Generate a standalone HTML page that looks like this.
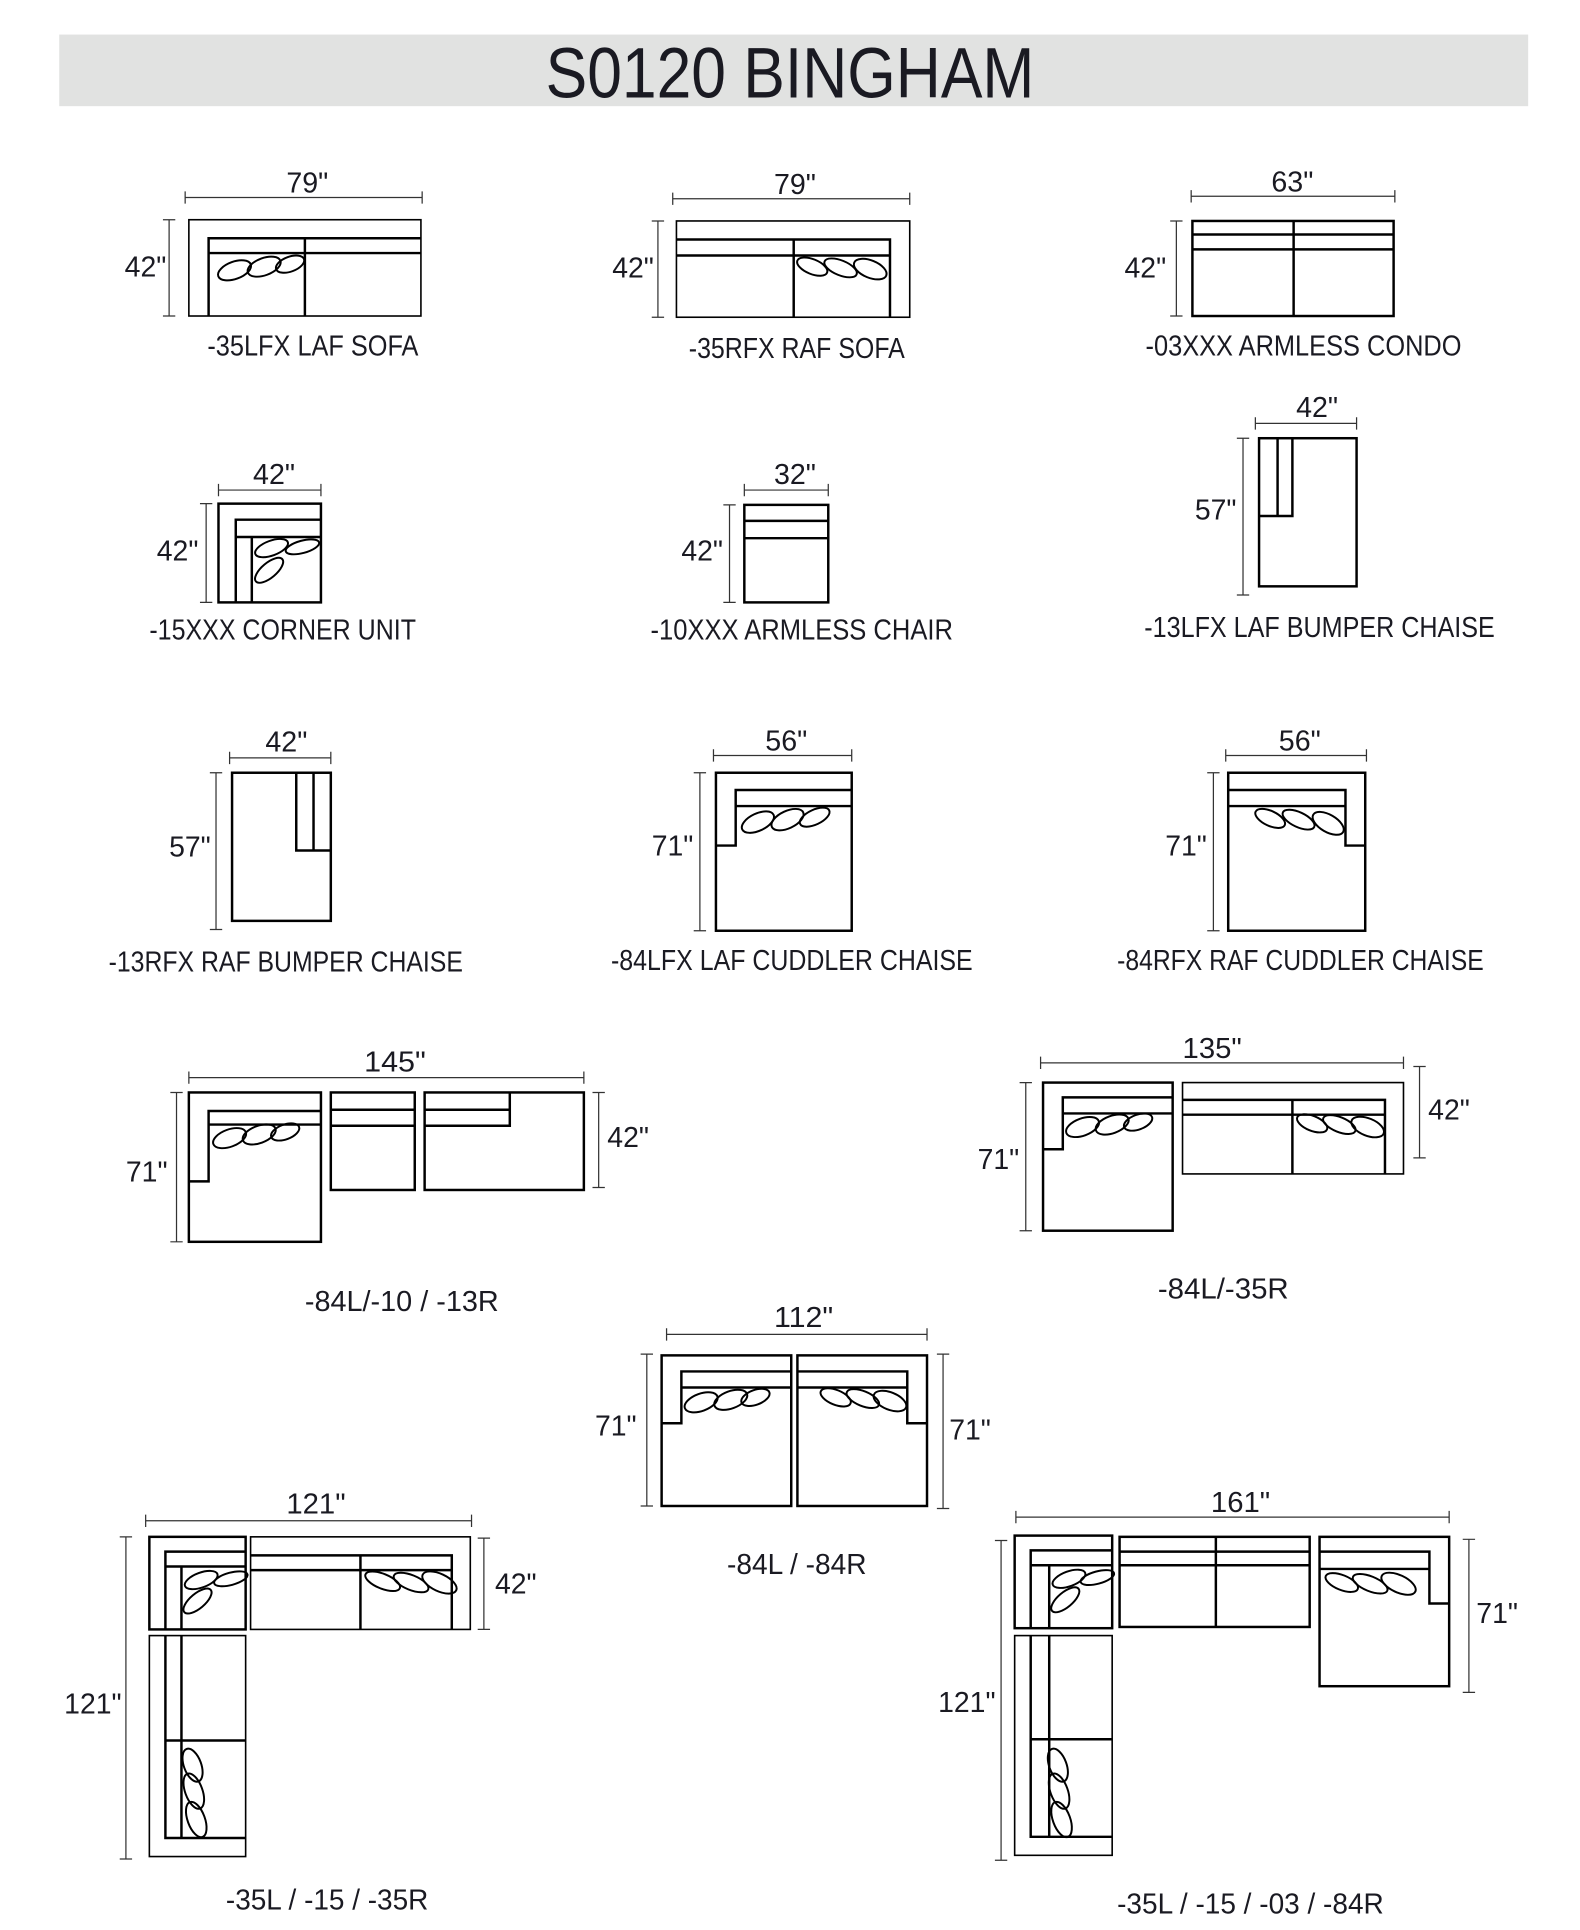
<!DOCTYPE html>
<html><head><meta charset="utf-8"><style>
html,body{margin:0;padding:0;background:#fff;}
svg{display:block;}
text{font-family:"Liberation Sans",sans-serif;fill:#1a1a22;}
.l{font-size:23px;}
.d{font-size:23px;}
.s{fill:none;stroke:#000;stroke-width:2;}
.t{fill:none;stroke:#000;stroke-width:1.3;}
.m{fill:none;stroke:#333;stroke-width:1;}
.p{fill:none;stroke:#000;stroke-width:1.6;}
</style></head><body>
<svg width="1580" height="1930" viewBox="0 0 1280 1563.5" preserveAspectRatio="none" xmlns="http://www.w3.org/2000/svg">
<rect x="48" y="28" width="1190" height="58" fill="#e1e2e1"/>
<text x="442" y="79" style="font-size:58px" textLength="396" lengthAdjust="spacingAndGlyphs">S0120 BINGHAM</text>

<!-- 1 LAF sofa -->
<path class="m" d="M150,160H342M150,155V165M342,155V165M137,178V256M132,178H142M132,256H142"/>
<text class="d" x="232" y="156" textLength="34" lengthAdjust="spacingAndGlyphs">79"</text>
<text class="d" x="101" y="224">42"</text>
<rect class="t" x="153" y="178" width="188" height="78"/>
<path class="s" d="M169,256V193H341M169,205H341M247,193V256"/>
<ellipse class="p" cx="190" cy="219" rx="14" ry="7" transform="rotate(-20 190 219)"/>
<ellipse class="p" cx="214" cy="216" rx="14" ry="7" transform="rotate(-20 214 216)"/>
<ellipse class="p" cx="235" cy="214" rx="12" ry="6" transform="rotate(-20 235 214)"/>
<text class="l" x="168" y="288" textLength="171" lengthAdjust="spacingAndGlyphs">-35LFX LAF SOFA</text>

<!-- 2 RAF sofa -->
<path class="m" d="M545,161H737M545,156V166M737,156V166M533,179V257M528,179H538M528,257H538"/>
<text class="d" x="627" y="157" textLength="34" lengthAdjust="spacingAndGlyphs">79"</text>
<text class="d" x="496" y="225">42"</text>
<rect class="t" x="548" y="179" width="189" height="78"/>
<path class="s" d="M721,257V194H548M548,207H721M643,194V257"/>
<ellipse class="p" cx="658" cy="216" rx="13" ry="6" transform="rotate(22 658 216)"/>
<ellipse class="p" cx="681" cy="217" rx="14" ry="6" transform="rotate(22 681 217)"/>
<ellipse class="p" cx="705" cy="218" rx="14" ry="7" transform="rotate(22 705 218)"/>
<text class="l" x="558" y="290" textLength="175" lengthAdjust="spacingAndGlyphs">-35RFX RAF SOFA</text>

<!-- 3 condo -->
<path class="m" d="M965,159H1130M965,154V164M1130,154V164M953,179V256M948,179H958M948,256H958"/>
<text class="d" x="1030" y="155" textLength="34" lengthAdjust="spacingAndGlyphs">63"</text>
<text class="d" x="911" y="225">42"</text>
<rect class="s" x="966" y="179" width="163" height="77"/>
<path class="s" d="M966,190H1129M966,202H1129M1048,179V256"/>
<text class="l" x="928" y="288" textLength="256" lengthAdjust="spacingAndGlyphs">-03XXX ARMLESS CONDO</text>

<!-- 4 corner -->
<path class="m" d="M177,397H260M177,392V402M260,392V402M167,408V488M162,408H172M162,488H172"/>
<text class="d" x="205" y="392" textLength="34" lengthAdjust="spacingAndGlyphs">42"</text>
<text class="d" x="127" y="454">42"</text>
<rect class="s" x="177" y="408" width="83" height="80"/>
<path class="s" d="M191,488V421H260M191,435H260M204,435V488"/>
<ellipse class="p" cx="220" cy="444" rx="14" ry="6" transform="rotate(-20 220 444)"/>
<ellipse class="p" cx="245" cy="443" rx="14" ry="5" transform="rotate(-15 245 443)"/>
<ellipse class="p" cx="218" cy="462" rx="14" ry="6" transform="rotate(-40 218 462)"/>
<text class="l" x="121" y="518" textLength="216" lengthAdjust="spacingAndGlyphs">-15XXX CORNER UNIT</text>

<!-- 5 armless chair -->
<path class="m" d="M603,397H671M603,392V402M671,392V402M591,409V488M586,409H596M586,488H596"/>
<text class="d" x="627" y="392" textLength="34" lengthAdjust="spacingAndGlyphs">32"</text>
<text class="d" x="552" y="454">42"</text>
<rect class="s" x="603" y="409" width="68" height="79"/>
<path class="s" d="M603,422H671M603,436H671"/>
<text class="l" x="527" y="518" textLength="245" lengthAdjust="spacingAndGlyphs">-10XXX ARMLESS CHAIR</text>

<!-- 6 LAF bumper -->
<path class="m" d="M1017,343H1099M1017,338V348M1099,338V348M1007,355V482M1002,355H1012M1002,482H1012"/>
<text class="d" x="1050" y="338" textLength="34" lengthAdjust="spacingAndGlyphs">42"</text>
<text class="d" x="968" y="421">57"</text>
<rect class="s" x="1020" y="355" width="79" height="120"/>
<path class="s" d="M1020,418H1047V355M1035,355V418"/>
<text class="l" x="927" y="516" textLength="284" lengthAdjust="spacingAndGlyphs">-13LFX LAF BUMPER CHAISE</text>

<!-- 7 RAF bumper -->
<path class="m" d="M186,614H268M186,609V619M268,609V619M175,626V753M170,626H180M170,753H180"/>
<text class="d" x="215" y="609" textLength="34" lengthAdjust="spacingAndGlyphs">42"</text>
<text class="d" x="137" y="694">57"</text>
<rect class="s" x="188" y="626" width="80" height="120"/>
<path class="s" d="M268,689H240V626M254,626V689"/>
<text class="l" x="88" y="787" textLength="287" lengthAdjust="spacingAndGlyphs">-13RFX RAF BUMPER CHAISE</text>

<!-- 8 LAF cuddler -->
<path class="m" d="M578,612H690M578,607V617M690,607V617M567,626V754M562,626H572M562,754H572"/>
<text class="d" x="620" y="608" textLength="34" lengthAdjust="spacingAndGlyphs">56"</text>
<text class="d" x="528" y="693">71"</text>
<rect class="s" x="580" y="626" width="110" height="128"/>
<path class="s" d="M580,685H596V640H690M596,653H690"/>
<ellipse class="p" cx="614" cy="666" rx="14" ry="7" transform="rotate(-25 614 666)"/>
<ellipse class="p" cx="638" cy="664" rx="14" ry="7" transform="rotate(-25 638 664)"/>
<ellipse class="p" cx="660" cy="662" rx="13" ry="6" transform="rotate(-25 660 662)"/>
<text class="l" x="495" y="786" textLength="293" lengthAdjust="spacingAndGlyphs">-84LFX LAF CUDDLER CHAISE</text>

<!-- 9 RAF cuddler -->
<path class="m" d="M993,612H1107M993,607V617M1107,607V617M983,626V754M978,626H988M978,754H988"/>
<text class="d" x="1036" y="608" textLength="34" lengthAdjust="spacingAndGlyphs">56"</text>
<text class="d" x="944" y="693">71"</text>
<rect class="s" x="995" y="626" width="111" height="128"/>
<path class="s" d="M1106,685H1090V640H995M995,653H1090"/>
<ellipse class="p" cx="1029" cy="663" rx="13" ry="6" transform="rotate(25 1029 663)"/>
<ellipse class="p" cx="1052" cy="664" rx="14" ry="6" transform="rotate(25 1052 664)"/>
<ellipse class="p" cx="1076" cy="667" rx="14" ry="7" transform="rotate(30 1076 667)"/>
<text class="l" x="905" y="786" textLength="297" lengthAdjust="spacingAndGlyphs">-84RFX RAF CUDDLER CHAISE</text>

<!-- 10 145 -->
<path class="m" d="M153,873H473M153,868V878M473,868V878M143,885V1006M138,885H148M138,1006H148M485,885V962M480,885H490M480,962H490"/>
<text class="d" x="295" y="868" textLength="50" lengthAdjust="spacingAndGlyphs">145"</text>
<text class="d" x="102" y="957">71"</text>
<text class="d" x="492" y="929">42"</text>
<rect class="s" x="153" y="885" width="107" height="121"/>
<path class="s" d="M153,957H169V900H260M169,911H260"/>
<ellipse class="p" cx="186" cy="922" rx="14" ry="7" transform="rotate(-20 186 922)"/>
<ellipse class="p" cx="210" cy="919" rx="14" ry="7" transform="rotate(-20 210 919)"/>
<ellipse class="p" cx="231" cy="917" rx="12" ry="6" transform="rotate(-20 231 917)"/>
<rect class="s" x="268" y="885" width="68" height="79"/>
<path class="s" d="M268,899H336M268,912H336"/>
<rect class="s" x="344" y="885" width="129" height="79"/>
<path class="s" d="M344,899H413M344,912H413V885"/>
<text class="l" x="247" y="1062" textLength="157" lengthAdjust="spacingAndGlyphs">-84L/-10 / -13R</text>

<!-- 11 135 -->
<path class="m" d="M843,861H1137M843,856V866M1137,856V866M831,877V997M826,877H836M826,997H836M1150,864V938M1145,864H1155M1145,938H1155"/>
<text class="d" x="958" y="857" textLength="48" lengthAdjust="spacingAndGlyphs">135"</text>
<text class="d" x="792" y="947">71"</text>
<text class="d" x="1157" y="907">42"</text>
<rect class="s" x="845" y="877" width="105" height="120"/>
<path class="s" d="M845,931H861V889H950M861,902H950"/>
<ellipse class="p" cx="877" cy="913" rx="14" ry="7" transform="rotate(-20 877 913)"/>
<ellipse class="p" cx="901" cy="911" rx="14" ry="7" transform="rotate(-20 901 911)"/>
<ellipse class="p" cx="922" cy="909" rx="12" ry="6" transform="rotate(-20 922 909)"/>
<rect class="t" x="958" y="877" width="179" height="74"/>
<path class="s" d="M958,891H1122V951M958,903H1122M1047,891V951"/>
<ellipse class="p" cx="1063" cy="910" rx="13" ry="6" transform="rotate(22 1063 910)"/>
<ellipse class="p" cx="1085" cy="911" rx="14" ry="6" transform="rotate(22 1085 911)"/>
<ellipse class="p" cx="1108" cy="913" rx="14" ry="7" transform="rotate(22 1108 913)"/>
<text class="l" x="938" y="1052" textLength="106" lengthAdjust="spacingAndGlyphs">-84L/-35R</text>

<!-- 12 112 -->
<path class="m" d="M540,1081H751M540,1076V1086M751,1076V1086M524,1097V1220M519,1097H529M519,1220H529M764,1097V1222M759,1097H769M759,1222H769"/>
<text class="d" x="627" y="1075" textLength="48" lengthAdjust="spacingAndGlyphs">112"</text>
<text class="d" x="482" y="1163">71"</text>
<text class="d" x="769" y="1166">71"</text>
<rect class="s" x="536" y="1098" width="105" height="122"/>
<path class="s" d="M536,1153H552V1111H641M552,1124H641"/>
<ellipse class="p" cx="568" cy="1136" rx="14" ry="7" transform="rotate(-20 568 1136)"/>
<ellipse class="p" cx="592" cy="1134" rx="14" ry="7" transform="rotate(-20 592 1134)"/>
<ellipse class="p" cx="612" cy="1132" rx="12" ry="6" transform="rotate(-20 612 1132)"/>
<rect class="s" x="646" y="1098" width="105" height="122"/>
<path class="s" d="M751,1153H735V1111H646M646,1124H735"/>
<ellipse class="p" cx="677" cy="1132" rx="13" ry="6" transform="rotate(22 677 1132)"/>
<ellipse class="p" cx="699" cy="1133" rx="14" ry="6" transform="rotate(22 699 1133)"/>
<ellipse class="p" cx="721" cy="1135" rx="14" ry="7" transform="rotate(22 721 1135)"/>
<text class="l" x="589" y="1275" textLength="113" lengthAdjust="spacingAndGlyphs">-84L / -84R</text>

<!-- 13 121 -->
<path class="m" d="M118,1232H382M118,1227V1237M382,1227V1237M102,1245V1506M97,1245H107M97,1506H107M392,1246V1320M387,1246H397M387,1320H397"/>
<text class="d" x="232" y="1226" textLength="48" lengthAdjust="spacingAndGlyphs">121"</text>
<text class="d" x="52" y="1388">121"</text>
<text class="d" x="401" y="1291">42"</text>
<rect class="s" x="121" y="1245" width="78" height="75"/>
<path class="s" d="M134,1320V1257H199M134,1269H199M147,1269V1320"/>
<ellipse class="p" cx="163" cy="1280" rx="14" ry="6" transform="rotate(-20 163 1280)"/>
<ellipse class="p" cx="187" cy="1279" rx="14" ry="5" transform="rotate(-15 187 1279)"/>
<ellipse class="p" cx="160" cy="1297" rx="14" ry="6" transform="rotate(-40 160 1297)"/>
<rect class="t" x="203" y="1245" width="178" height="75"/>
<path class="s" d="M203,1260H366V1320M203,1272H366M292,1260V1320"/>
<ellipse class="p" cx="310" cy="1281" rx="15" ry="6" transform="rotate(22 310 1281)"/>
<ellipse class="p" cx="333" cy="1282" rx="15" ry="6" transform="rotate(22 333 1282)"/>
<ellipse class="p" cx="356" cy="1282" rx="15" ry="7" transform="rotate(25 356 1282)"/>
<rect class="t" x="121" y="1325" width="78" height="179"/>
<path class="s" d="M134,1325V1489H199M147,1325V1489M134,1410H199"/>
<ellipse class="p" cx="156" cy="1430" rx="7" ry="14" transform="rotate(-20 156 1430)"/>
<ellipse class="p" cx="157" cy="1451" rx="7" ry="15" transform="rotate(-20 157 1451)"/>
<ellipse class="p" cx="159" cy="1474" rx="7" ry="15" transform="rotate(-20 159 1474)"/>
<text class="l" x="183" y="1547" textLength="164" lengthAdjust="spacingAndGlyphs">-35L / -15 / -35R</text>

<!-- 14 161 -->
<path class="m" d="M823,1229H1174M823,1224V1234M1174,1224V1234M811,1248V1507M806,1248H816M806,1507H816M1190,1247V1371M1185,1247H1195M1185,1371H1195"/>
<text class="d" x="981" y="1225" textLength="48" lengthAdjust="spacingAndGlyphs">161"</text>
<text class="d" x="760" y="1387">121"</text>
<text class="d" x="1196" y="1315">71"</text>
<rect class="s" x="822" y="1244" width="79" height="75"/>
<path class="s" d="M835,1319V1256H901M835,1268H901M850,1268V1319"/>
<ellipse class="p" cx="866" cy="1279" rx="14" ry="6" transform="rotate(-20 866 1279)"/>
<ellipse class="p" cx="889" cy="1278" rx="14" ry="5" transform="rotate(-15 889 1278)"/>
<ellipse class="p" cx="863" cy="1296" rx="14" ry="6" transform="rotate(-40 863 1296)"/>
<rect class="s" x="907" y="1245" width="154" height="73"/>
<path class="s" d="M907,1257H1061M907,1268H1061M985,1245V1318"/>
<rect class="s" x="1069" y="1245" width="105" height="121"/>
<path class="s" d="M1069,1257H1158V1299H1174M1069,1271H1158"/>
<ellipse class="p" cx="1087" cy="1282" rx="14" ry="6" transform="rotate(22 1087 1282)"/>
<ellipse class="p" cx="1110" cy="1283" rx="15" ry="6" transform="rotate(22 1110 1283)"/>
<ellipse class="p" cx="1133" cy="1283" rx="15" ry="7" transform="rotate(25 1133 1283)"/>
<rect class="t" x="822" y="1325" width="79" height="178"/>
<path class="s" d="M835,1325V1488H901M850,1325V1488M835,1409H901"/>
<ellipse class="p" cx="857" cy="1430" rx="7" ry="14" transform="rotate(-20 857 1430)"/>
<ellipse class="p" cx="858" cy="1451" rx="7" ry="15" transform="rotate(-20 858 1451)"/>
<ellipse class="p" cx="860" cy="1474" rx="7" ry="15" transform="rotate(-20 860 1474)"/>
<text class="l" x="905" y="1550" textLength="216" lengthAdjust="spacingAndGlyphs">-35L / -15 / -03 / -84R</text>
</svg>
</body></html>
